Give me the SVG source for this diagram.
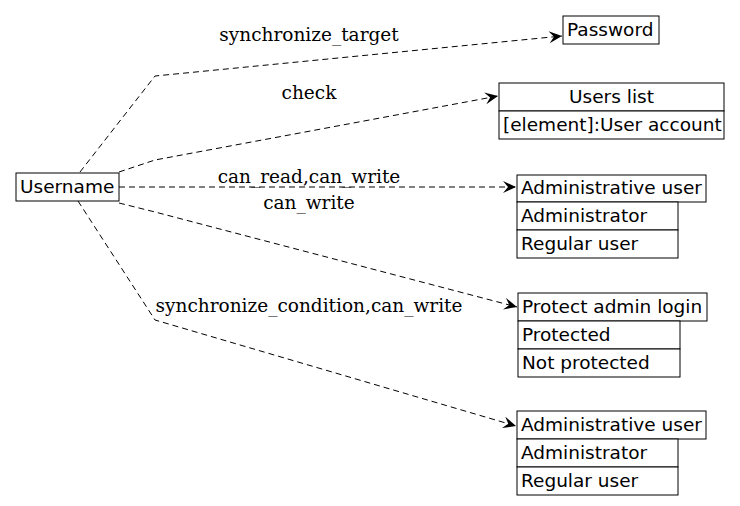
<svg xmlns="http://www.w3.org/2000/svg" width="740" height="506" viewBox="0 0 740 506">
<style>
.b{fill:#fff;stroke:#000;stroke-width:1}
.t{font-family:"DejaVu Sans",sans-serif;font-size:18.5px;fill:#000}
.l{font-family:"DejaVu Serif","Liberation Serif",serif;font-size:18.5px;fill:#000;text-anchor:middle}
.e{fill:none;stroke:#000;stroke-width:1;stroke-dasharray:6,4;marker-end:url(#a)}
</style>
<defs><marker id="a" markerWidth="14" markerHeight="12" refX="13" refY="6" orient="auto" markerUnits="userSpaceOnUse"><path d="M0,0 L13,6 L0,12 L5,6 Z" fill="#000"/></marker></defs>
<rect width="740" height="506" fill="#fff"/>
<g id="connectors">
<path class="e" d="M80,172 L155,76 L562,36"/>
<path class="e" d="M119,172 L155,160 L498,96"/>
<path class="e" d="M119,187 L516,187"/>
<path class="e" d="M119,203 L155,212 L517,307"/>
<path class="e" d="M78,201 L155,320 L516,426"/>
<text class="l" x="309" y="41">synchronize_target</text>
<text class="l" x="309" y="99">check</text>
<text class="l" x="309" y="183">can_read,can_write</text>
<text class="l" x="309" y="209">can_write</text>
<text class="l" x="309" y="312">synchronize_condition,can_write</text>
</g>
<g id="username"><rect class="b" x="16" y="173" width="103" height="28"/><text class="t" x="20" y="193">Username</text></g>
<g id="password"><rect class="b" x="563" y="16" width="96" height="28"/><text class="t" x="567" y="36">Password</text></g>
<g id="userslist"><rect class="b" x="499" y="83" width="225" height="28"/><rect class="b" x="499" y="111" width="225" height="28"/><text class="t" x="611.5" y="103" text-anchor="middle">Users list</text><text class="t" x="503" y="131">[element]:User account</text></g>
<g id="admin1"><rect class="b" x="517" y="175" width="189" height="27"/><rect class="b" x="517" y="202" width="161" height="28"/><rect class="b" x="517" y="230" width="161" height="28"/><text class="t" x="521" y="194">Administrative user</text><text class="t" x="521" y="222">Administrator</text><text class="t" x="521" y="250">Regular user</text></g>
<g id="protect"><rect class="b" x="518" y="293" width="189" height="28"/><rect class="b" x="518" y="321" width="162" height="28"/><rect class="b" x="518" y="349" width="162" height="28"/><text class="t" x="522" y="313">Protect admin login</text><text class="t" x="522" y="341">Protected</text><text class="t" x="522" y="369">Not protected</text></g>
<g id="admin2"><rect class="b" x="517" y="411" width="189" height="28"/><rect class="b" x="517" y="439" width="161" height="28"/><rect class="b" x="517" y="467" width="161" height="28"/><text class="t" x="521" y="431">Administrative user</text><text class="t" x="521" y="459">Administrator</text><text class="t" x="521" y="487">Regular user</text></g>
</svg>
